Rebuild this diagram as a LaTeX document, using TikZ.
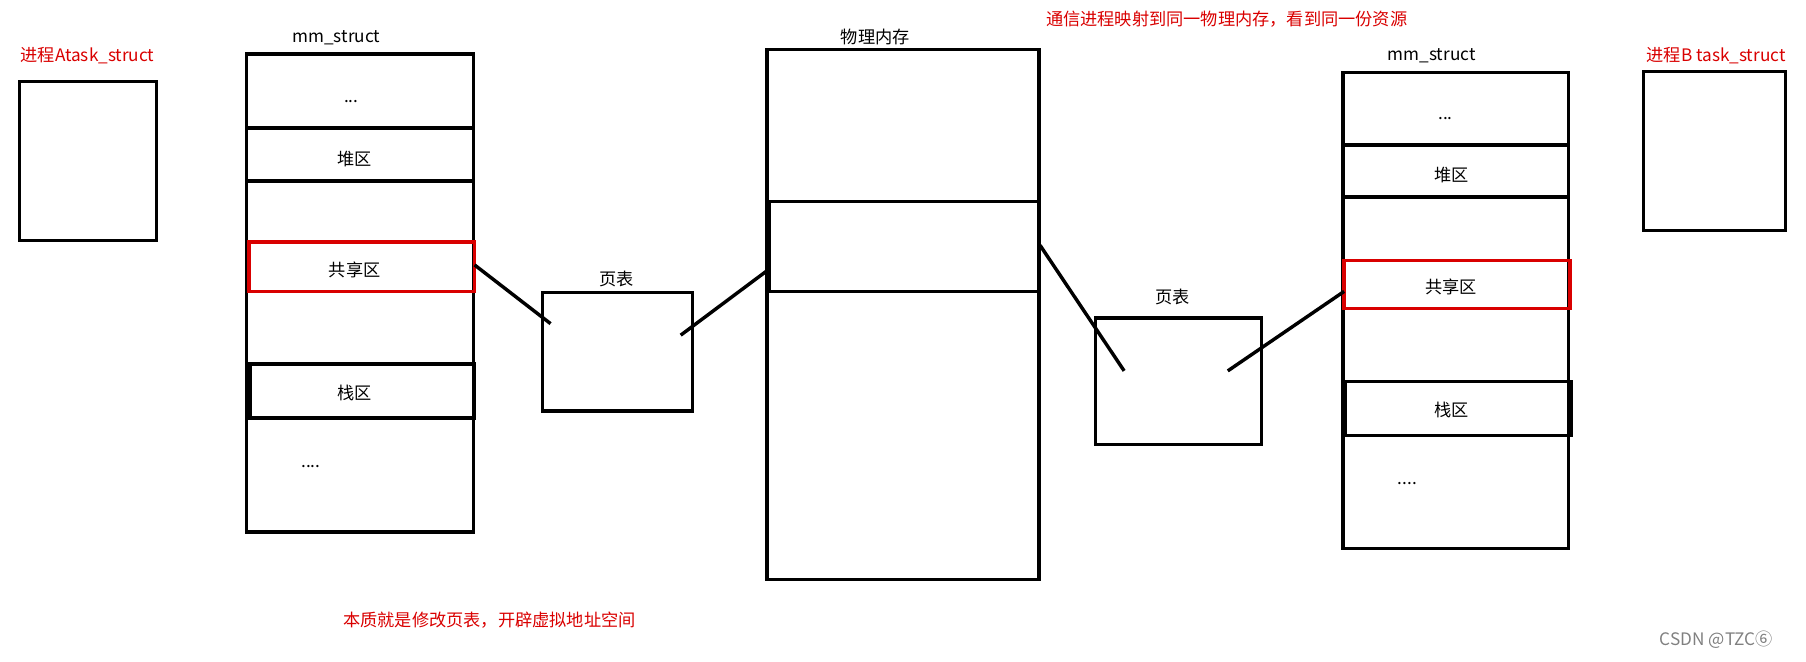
\documentclass[tikz,border=0pt]{standalone}
\usepackage{fontspec}
\setmainfont{Noto Sans CJK SC}
\begin{document}
\begin{tikzpicture}[x=0.02cm,y=-0.02cm,
  bx/.style={draw=black,line width=1.7pt},
  rbx/.style={draw=red!85!black,line width=1.7pt},
  ln/.style={line width=1.7pt},
  lab/.style={font=\fontsize{8.5}{10}\selectfont,inner sep=0pt},
  rlab/.style={lab,text=red!85!black}]
\useasboundingbox (0,0) rectangle (1568,574);
% process A
\node[rlab] (ta) at (76,48) {进程Atask\_struct};
\draw[bx] (17,71) rectangle (136,209);
% left mm_struct
\node[lab] (mma) at (292,33) {mm\_struct};
\draw[bx] (214,47) rectangle (411,462);
\node[lab] (da) at (305,88) {...};
\draw[bx] (214,111) rectangle (411,157);
\node[lab] (ha) at (308,138) {堆区};
\draw[rbx] (216,210) rectangle (412,253);
\node[lab] (sa) at (308,234) {共享区};
\coordinate (sae) at (412,230);
\draw[bx] (217,316) rectangle (412,363);
\node[lab] (za) at (308,341) {栈区};
\node[lab] (dda) at (270,405) {....};
% left page table
\node[lab] (pla) at (535,242) {页表};
\draw[bx] (471,254) rectangle (601,357);
\coordinate (pa1) at (478,281);
\coordinate (pa2) at (591,291);
% physical memory
\node[lab] (pm) at (760,32) {物理内存};
\draw[bx] (666,43) rectangle (902,503);
\draw[bx] (668,175) rectangle (902,253);
\coordinate (pml) at (666,235);
\coordinate (pmr) at (903,213);
\node[rlab] (top) at (1065,17) {通信进程映射到同一物理内存，看到同一份资源};
% right page table
\node[lab] (plb) at (1018,258) {页表};
\draw[bx] (951,276) rectangle (1095,386);
\coordinate (pb1) at (976,322);
\coordinate (pb2) at (1066,322);
% right mm_struct
\node[lab] (mmb) at (1243,48) {mm\_struct};
\draw[bx] (1166,63) rectangle (1362,476);
\node[lab] (db) at (1255,103) {...};
\draw[bx] (1166,126) rectangle (1362,171);
\node[lab] (hb) at (1260,152) {堆区};
\draw[rbx] (1167,226) rectangle (1363,268);
\node[lab] (sb) at (1260,249) {共享区};
\coordinate (sbw) at (1167,253);
\draw[bx] (1168,331) rectangle (1364,378);
\node[lab] (zb) at (1260,356) {栈区};
\node[lab] (ddb) at (1222,420) {....};
% process B
\node[rlab] (tb) at (1490,48) {进程B task\_struct};
\draw[bx] (1427,62) rectangle (1550,200);
% connectors
\draw[ln] (sae) -- (pa1);
\draw[ln] (pa2) -- (pml);
\draw[ln] (pmr) -- (pb1);
\draw[ln] (pb2) -- (sbw);
\node[rlab] (bot) at (425,538) {本质就是修改页表，开辟虚拟地址空间};
\node[lab,text=gray] (wm) at (1490,555) {CSDN @TZC⑥};
\end{tikzpicture}
\end{document}
